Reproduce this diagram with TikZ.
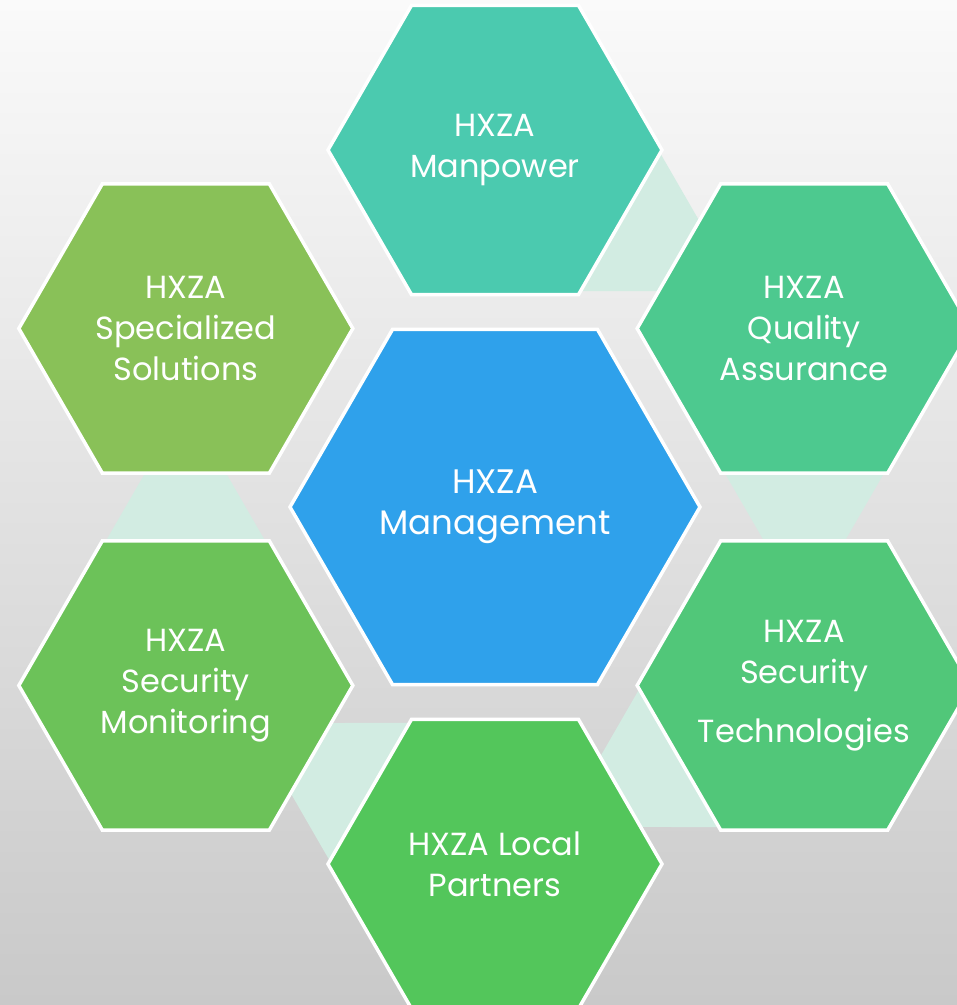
\documentclass[tikz,border=0pt]{standalone}
\usepackage{fontspec}
\setmainfont{Poppins}
\usetikzlibrary{shapes.geometric}

\definecolor{bgtop}{HTML}{FAFAFA}
\definecolor{bgbottom}{HTML}{C9C9C9}
\definecolor{mint}{HTML}{D2ECE2}
\definecolor{mgmtblue}{HTML}{2FA1EB}
\definecolor{manpowergreen}{HTML}{4BCAAF}
\definecolor{qualitygreen}{HTML}{4DC98F}
\definecolor{techgreen}{HTML}{51C779}
\definecolor{partnergreen}{HTML}{53C65B}
\definecolor{monitorgreen}{HTML}{6CC259}
\definecolor{specialgreen}{HTML}{89C158}

\begin{document}
\begin{tikzpicture}[x=1pt, y=1pt]
    \tikzstyle{every node}=[regular polygon, regular polygon sides=6,
                % The border:
                draw=white, line width=3.5pt,
                % The filling:
                text=white, align=center, inner sep=-20pt,
                minimum size=334pt,
                font=\fontsize{32}{41}\selectfont
                ]
    \tikzstyle{link}=[fill=mint, draw=none]
    % background
    \shade[top color=bgtop, bottom color=bgbottom] (-495,-498) rectangle (462,507);
    \clip (-495,-498) rectangle (462,507);
    % links behind the cells
    \foreach \a in {60,0,-60,-120,180}
        \fill[link, rotate=\a] (223.4,45) -- (395.5,45) -- (343.5,-45) -- (275.4,-45) -- cycle;
    % the cells
    \node[fill=mgmtblue, minimum size=410pt, font=\fontsize{34}{41}\selectfont] (mgmt) at (0,0) {HXZA\\Management};
    \node[fill=manpowergreen] (manpower) at (90:357) {HXZA\\Manpower};
    \node[fill=qualitygreen] (quality) at (30:357) {HXZA\\Quality\\Assurance};
    \node[fill=techgreen] (tech) at (-30:357) {HXZA\\Security\\[18pt]Technologies};
    \node[fill=partnergreen] (partners) at (-90:357) {HXZA Local\\Partners};
    \node[fill=monitorgreen] (monitoring) at (-150:357) {HXZA\\Security\\Monitoring};
    \node[fill=specialgreen] (special) at (150:357) {HXZA\\Specialized\\Solutions};
\end{tikzpicture}
\end{document}
